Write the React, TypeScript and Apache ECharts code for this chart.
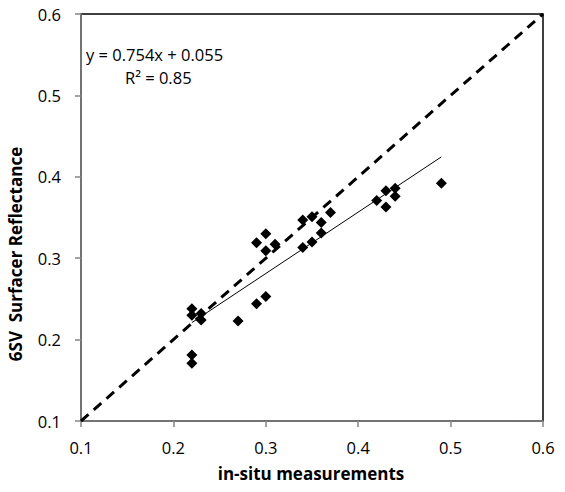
import React, { useEffect, useRef } from "react";
import * as echarts from "echarts";

const xValues = [0.22, 0.22, 0.23, 0.23, 0.22, 0.22, 0.27, 0.29, 0.30, 0.29, 0.30, 0.30, 0.31, 0.34, 0.35, 0.34, 0.35, 0.36, 0.36, 0.37, 0.42, 0.43, 0.43, 0.44, 0.44, 0.49];
const yValues = [0.238, 0.230, 0.232, 0.224, 0.181, 0.171, 0.223, 0.244, 0.253, 0.319, 0.330, 0.309, 0.317, 0.347, 0.351, 0.313, 0.320, 0.344, 0.331, 0.356, 0.371, 0.383, 0.363, 0.386, 0.376, 0.392];
const trendX = [0.22, 0.49];
const slope = 0.754;
const intercept = 0.055;
const oneToOne = [0.1, 0.6];
const tickLabels = ["0.1", "0.2", "0.3", "0.4", "0.5", "0.6"];
const equationText = "y = 0.754x + 0.055";
const r2Text = "R² = 0.85";
const xTitle = "in-situ measurements";
const yTitle = "6SV  Surfacer Reflectance";

const FONT = "Open Sans";

export default function App() {
  const ref = useRef<HTMLDivElement>(null);
  useEffect(() => {
    document.body.style.margin = "0";
    if (!ref.current) return;
    const chart = echarts.init(ref.current, null, { renderer: "svg" });
    const axisCommon = {
      type: "value",
      min: 0.1,
      max: 0.6,
      interval: 0.1,
      splitLine: { show: false },
      axisLine: { show: true, onZero: false, lineStyle: { color: "#868686", width: 1.5 } },
      axisTick: { show: true, inside: false, length: 6, lineStyle: { color: "#868686", width: 1.5 } },
      axisLabel: {
        color: "#000",
        fontFamily: FONT,
        fontSize: 16.5,
        formatter: (v: number) => tickLabels[Math.round((v - 0.1) * 10)] ?? "",
      },
    };
    chart.setOption({
      animation: false,
      backgroundColor: "#fff",
      grid: {
        left: 81,
        top: 14,
        width: 462,
        height: 407,
        show: true,
        borderColor: "#000",
        borderWidth: 1.5,
        backgroundColor: "transparent",
      },
      xAxis: {
        ...axisCommon,
        axisLabel: { ...axisCommon.axisLabel, margin: 18 },
      },
      yAxis: {
        ...axisCommon,
        axisLabel: { ...axisCommon.axisLabel, margin: 20 },
      },
      graphic: [
        {
          type: "text",
          left: 86,
          top: 46,
          style: { text: equationText, fontFamily: FONT, fontSize: 16.5, fill: "#000" },
        },
        {
          type: "text",
          left: 125,
          top: 69,
          style: { text: r2Text, fontFamily: FONT, fontSize: 16.5, fill: "#000" },
        },
        {
          type: "text",
          x: 311,
          y: 473,
          style: {
            text: xTitle,
            fontFamily: FONT,
            fontSize: 17,
            fontWeight: "bold",
            fill: "#000",
            align: "center",
            verticalAlign: "middle",
          },
        },
        {
          type: "text",
          x: 15,
          y: 254,
          rotation: Math.PI / 2,
          style: {
            text: yTitle,
            fontFamily: FONT,
            fontSize: 17,
            fontWeight: "bold",
            fill: "#000",
            align: "center",
            verticalAlign: "middle",
          },
        },
      ],
      series: [
        {
          type: "line",
          data: oneToOne.map((v) => [v, v]),
          symbol: "none",
          lineStyle: { color: "#000", width: 3, type: [10, 7] },
          z: 3,
        },
        {
          type: "line",
          data: trendX.map((x) => [x, slope * x + intercept]),
          symbol: "none",
          lineStyle: { color: "#000", width: 1 },
          z: 4,
        },
        {
          type: "scatter",
          data: xValues.map((x, i) => [x, yValues[i]]),
          symbol: "diamond",
          symbolSize: 11,
          itemStyle: { color: "#000", opacity: 1 },
          z: 5,
        },
      ],
    });
    return () => chart.dispose();
  }, []);
  return <div ref={ref} style={{ width: 565, height: 492 }} />;
}
